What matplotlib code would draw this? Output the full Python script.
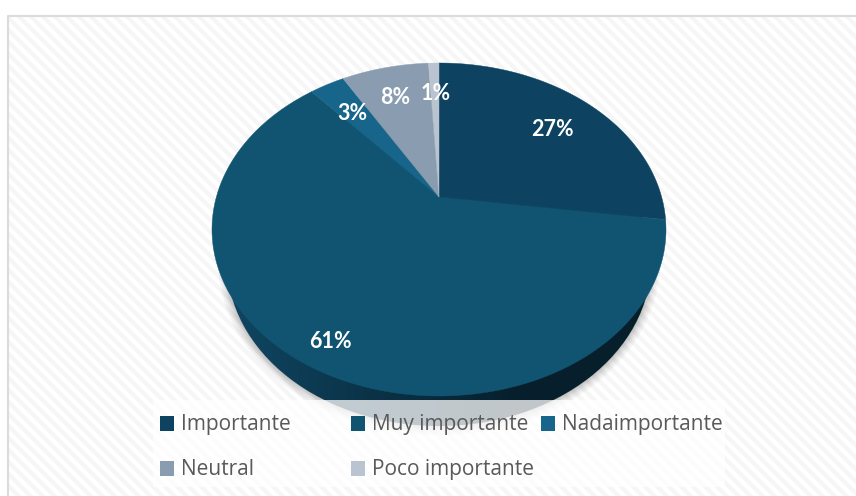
import numpy as np
import matplotlib
matplotlib.use('Agg')
import matplotlib.pyplot as plt
from matplotlib.patches import Ellipse, Polygon, Rectangle

categories = ['Importante', 'Muy importante', 'Nadaimportante', 'Neutral', 'Poco importante']
values = [27.2, 61.4, 3.0, 7.5, 0.9]
labels = ['27%', '61%', '3%', '8%', '1%']
colors = ['#0d4361', '#115471', '#17658a', '#8a9db0', '#b9c4d0']

# pie geometry in pixels
apex_x, apex_y = 439, 197
rx, top, bottom = 227, 63, 396

# tilt of the pie: far side squeezed, near side stretched
up = apex_y - top
down = bottom - apex_y
k = (down - up) / (down + up)
b = up * (1 + k)
a = rx * np.sqrt(1 - k ** 2)


def project(theta, r=1.0):
    u = r * np.sin(theta)
    v = r * np.cos(theta)
    d = 1 + k * v
    return apex_x + a * u / d, apex_y - b * v / d


fig = plt.figure(figsize=(8.56, 4.96), dpi=100)
ax = fig.add_axes([0, 0, 1, 1])
ax.axis('off')

# striped background, runs off the right and bottom edges
yy, xx = np.mgrid[15:496, 9:856]
stripes = ((xx - yy) % 12 < 6).astype(float)
ax.imshow(stripes, extent=(9, 856, 496, 15), cmap=matplotlib.colors.ListedColormap(['white', '#f6f6f6']),
          interpolation='bilinear', aspect='auto', zorder=0)
ax.plot([8.5, 8.5, 856], [496, 15.5, 15.5], color='#dcdcdc', lw=1.6, zorder=1)

# soft shadow under the pie
for grow, alpha in zip([9, 7, 5, 3, 1], [0.05, 0.06, 0.08, 0.1, 0.12]):
    ax.add_patch(Ellipse((439, 262), 2 * (212 + grow), 2 * (164 + grow), fc='#555555', ec='none', alpha=alpha, zorder=2))

# side of the pie, dark gradient left to right
side = Ellipse((439, 262), 424, 328, fc='none', ec='none', zorder=3)
ax.add_patch(side)
grad = np.linspace(0, 1, 256).reshape(1, -1)
cmap = matplotlib.colors.LinearSegmentedColormap.from_list('side', ['#0f4662', '#0b3348', '#07202d', '#071f2b'])
im = ax.imshow(grad, extent=(227, 651, 426, 98), cmap=cmap, aspect='auto', zorder=3)
im.set_clip_path(side)
ax.set_xlim(0, 856)
ax.set_ylim(496, 0)

# top face, one polygon per slice
start = 0
for value, color in zip(values, colors):
    t = np.radians(np.linspace(start, start + value, 200) * 3.6)
    xs, ys = project(t)
    pts = [(apex_x, apex_y)] + list(zip(xs, ys))
    ax.add_patch(Polygon(pts, closed=True, fc=color, ec=color, lw=0.3, zorder=4))
    start += value

# slice labels
label_pos = [(552, 130), (330, 342), (352, 113), (395, 97), (436, 93)]
for text, (x, y) in zip(labels, label_pos):
    ax.text(x, y, text, color='white', fontsize=15.5, fontweight='bold', family='Lato',
            ha='center', va='center', zorder=6)

# legend box
ax.add_patch(Rectangle((153, 400), 572, 87, fc='white', ec='none', alpha=0.75, zorder=5))
legend_x = [160, 351, 541, 160, 351]
legend_y = [423.5, 423.5, 423.5, 468.5, 468.5]
for name, color, x, y in zip(categories, colors, legend_x, legend_y):
    ax.add_patch(Rectangle((x, y - 7.5), 14, 15, fc=color, ec='none', zorder=6))
    ax.text(181 + x - 160 if x == 160 else x + 21, y + 1, name, color='#595959', fontsize=15, family='Open Sans',
            ha='left', va='center', zorder=6)

fig.savefig('out.png', dpi=100)
